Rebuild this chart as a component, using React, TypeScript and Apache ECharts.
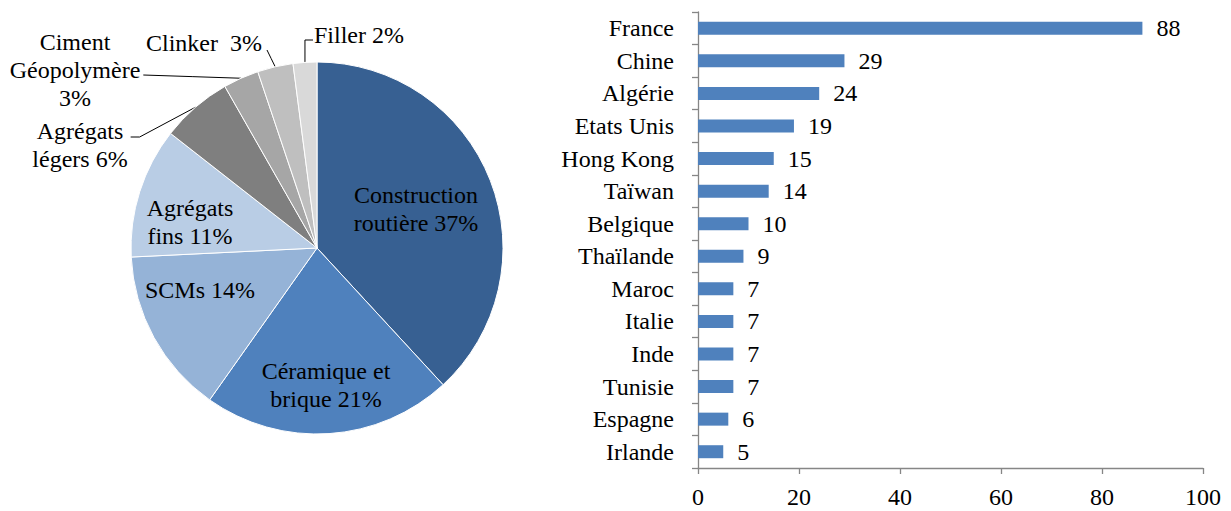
import React, { useEffect, useRef } from "react";
import * as echarts from "echarts";

// ---------- Data ----------
const pieCategories = [
  "Construction routière",
  "Céramique et brique",
  "SCMs",
  "Agrégats fins",
  "Agrégats légers",
  "Ciment Géopolymère",
  "Clinker",
  "Filler",
];
const pieValues = [37, 21, 14, 11, 6, 3, 3, 2];
const pieLabelTexts = [
  "Construction\nroutière 37%",
  "Céramique et\nbrique 21%",
  "SCMs 14%",
  "Agrégats\nfins 11%",
  "Agrégats\nlégers 6%",
  "Ciment\nGéopolymère\n3%",
  "Clinker  3%",
  "Filler 2%",
];

const countries = [
  "France",
  "Chine",
  "Algérie",
  "Etats Unis",
  "Hong Kong",
  "Taïwan",
  "Belgique",
  "Thaïlande",
  "Maroc",
  "Italie",
  "Inde",
  "Tunisie",
  "Espagne",
  "Irlande",
];
const countryValues = [88, 29, 24, 19, 15, 14, 10, 9, 7, 7, 7, 7, 6, 5];

const xMin = 0;
const xMax = 100;
const xInterval = 20;

// ---------- Styles ----------
const FONT = "Liberation Serif";
const FS = 24;
const LH = 28;
const pieColors = ["#376092", "#4f81bd", "#95b3d7", "#b9cde5", "#7f7f7f", "#a6a6a6", "#bfbfbf", "#d9d9d9"];
const pieInside = [true, true, true, true, false, false, false, false];
// label centres (px)
const pieLabelPos: [number, number][] = [
  [416, 209], [326, 385], [200, 290], [190, 222], [80, 145], [75, 70], [204, 43], [359, 35],
];

export default function App() {
  const ref = useRef<HTMLDivElement>(null);
  useEffect(() => {
    if (!ref.current) return;
    const chart = echarts.init(ref.current, undefined, { renderer: "svg" });
    const labelLayout = (params: any) => {
      const i = params.dataIndex;
      const [cx, cy] = pieLabelPos[i];
      const w = params.labelRect.width;
      const h = params.labelRect.height;
      const res: any = { x: cx, y: cy, align: "center", verticalAlign: "middle" };
      const lp = params.labelLinePoints;
      if (!pieInside[i] && lp && lp[0]) {
        const p0 = lp[0];
        const left = cx - w / 2;
        const right = cx + w / 2;
        const top = cy - h / 2;
        let pts: number[][];
        if (i === 7) {
          const y = cy + 5;
          pts = [p0, [p0[0], y], [left - 1, y]];
        } else if (i === 6) {
          const end = [right + 5, cy + 7];
          pts = [p0, [(p0[0] + end[0]) / 2, (p0[1] + end[1]) / 2], end];
        } else if (i === 5) {
          const end = [right + 3, cy + 5];
          pts = [p0, [(p0[0] + end[0]) / 2, (p0[1] + end[1]) / 2], end];
        } else {
          const y = top + LH / 2 + 6;
          const end = [right + 3, y];
          pts = [p0, [end[0] + 9, y], end];
        }
        res.labelLinePoints = pts;
      }
      return res;
    };
    const option: any = {
      animation: false,
      textStyle: { fontFamily: FONT },
      grid: { left: 698, right: 28, top: 12, bottom: 43 },
      xAxis: {
        type: "value", min: xMin, max: xMax, interval: xInterval,
        splitLine: { show: false },
        axisLine: { show: true, lineStyle: { color: "#868686", width: 1.3 } },
        axisTick: { show: true, length: 6, lineStyle: { color: "#868686", width: 1.3 } },
        axisLabel: { color: "#000", fontSize: FS, fontFamily: FONT, margin: 17 },
      },
      yAxis: {
        type: "category", inverse: true, data: countries,
        axisLine: { show: true, lineStyle: { color: "#868686", width: 1.3 } },
        axisTick: { show: true, length: 6, lineStyle: { color: "#868686", width: 1.3 } },
        axisLabel: { color: "#000", fontSize: FS, fontFamily: FONT, margin: 24 },
      },
      series: [
        {
          type: "bar", data: countryValues, barWidth: 13,
          itemStyle: { color: "#4f81bd" },
          label: { show: true, position: "right", distance: 14, color: "#000", fontSize: FS, fontFamily: FONT },
        },
        {
          type: "pie", center: [317, 248], radius: 186, startAngle: 90, clockwise: true,
          avoidLabelOverlap: false,
          itemStyle: { borderColor: "#fff", borderWidth: 1 },
          labelLine: { show: true, length: 10, length2: 10, lineStyle: { color: "#000", width: 1 } },
          labelLayout,
          data: pieCategories.map((name, i) => ({
            name, value: pieValues[i],
            itemStyle: { color: pieColors[i] },
            label: {
              show: true, position: pieInside[i] ? "inside" : "outside",
              formatter: pieLabelTexts[i], color: "#000", fontSize: FS, lineHeight: LH,
              fontFamily: FONT, align: "center",
            },
            labelLine: { show: !pieInside[i] },
          })),
        },
      ],
    };
    chart.setOption(option);
    return () => chart.dispose();
  }, []);
  return <div ref={ref} style={{ position: "fixed", left: 0, top: 0, width: 1231, height: 511, background: "#fff" }} />;
}
